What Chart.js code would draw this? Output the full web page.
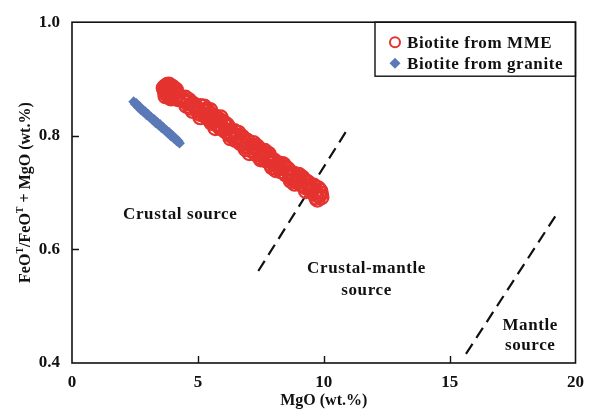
<!DOCTYPE html>
<html>
<head>
<meta charset="utf-8">
<script src="https://cdn.jsdelivr.net/npm/chart.js@4/dist/chart.umd.min.js"></script>
<style>
  html, body { margin: 0; padding: 0; background: #fff; }
  #wrap { width: 593px; height: 413px; }
</style>
</head>
<body>
<div id="wrap"><canvas id="chart" width="593" height="413"></canvas></div>
<script>
// MgO (wt.%) vs FeOT/(FeOT+MgO), biotite from MME
const mmePoints = [
  [3.65,0.884],[3.70,0.878],[3.75,0.887],[3.80,0.881],[3.85,0.875],[3.90,0.885],[3.95,0.879],[4.00,0.872],
  [4.05,0.882],[3.72,0.870],[3.88,0.868],[4.10,0.876],[3.78,0.889],[3.98,0.886],[4.15,0.870],[4.20,0.865],
  [3.68,0.882],[3.82,0.886],[3.92,0.874],[4.02,0.878],[3.76,0.874],[3.86,0.882],[3.96,0.870],[4.08,0.868],
  [3.70,0.886],[4.12,0.881],[3.84,0.890],[3.94,0.866],
  [4.45,0.862],[4.60,0.858],[4.70,0.850],[4.80,0.856],[4.95,0.847],[5.05,0.840],[5.10,0.852],[5.20,0.843],
  [5.30,0.835],[5.35,0.846],[5.45,0.830],[5.50,0.838],[5.60,0.826],[5.70,0.833],[5.75,0.820],[5.85,0.828],
  [5.95,0.815],[6.05,0.822],[6.10,0.808],[6.20,0.815],[6.35,0.800],[6.45,0.808],[6.50,0.793],[6.60,0.800],
  [6.70,0.787],[6.80,0.795],[6.90,0.782],[7.00,0.789],[7.10,0.775],[7.20,0.783],[7.30,0.768],[7.40,0.776],
  [7.50,0.762],[7.60,0.770],[7.70,0.757],[7.80,0.764],[7.90,0.750],[8.00,0.757],[8.10,0.744],[8.20,0.751],
  [8.30,0.738],[8.40,0.745],[8.50,0.732],[8.60,0.739],[8.70,0.726],[8.80,0.733],[8.90,0.720],[9.00,0.727],
  [9.10,0.715],[9.20,0.722],[9.30,0.709],[9.40,0.716],[9.50,0.703],[9.60,0.710],[9.70,0.697],[9.85,0.703],
  [9.90,0.692],[9.75,0.688],
  [4.50,0.867],[4.80,0.844],[5.10,0.833],[5.40,0.842],[5.70,0.814],[6.00,0.824],[6.30,0.796],[6.60,0.805],
  [6.90,0.777],[7.20,0.787],[7.50,0.759],[7.80,0.768],[8.10,0.740],[8.40,0.749],[8.70,0.721],[9.00,0.731],
  [9.30,0.703],[9.60,0.712],[5.25,0.851],[5.55,0.823],[5.90,0.832],[6.25,0.803],[6.75,0.798],[7.05,0.770],
  [7.65,0.773],[7.95,0.745],[8.55,0.742],[8.85,0.716],[9.45,0.708],[9.80,0.695],
  [4.35,0.866],[4.55,0.853],[4.65,0.862],[4.90,0.852],[5.00,0.845],[5.15,0.838],[5.28,0.843],[5.40,0.832],
  [5.48,0.845],[5.65,0.829],[5.80,0.822],[5.88,0.815],[6.00,0.812],[6.15,0.819],[6.22,0.806],[6.40,0.803],
  [6.55,0.797],[6.65,0.792],[6.85,0.788],[6.95,0.791],[7.15,0.780],[7.25,0.774],[7.35,0.781],[7.45,0.770],
  [7.55,0.766],[7.75,0.761],[7.85,0.756],[8.05,0.752],[8.15,0.748],[8.25,0.743],[8.35,0.750],[8.45,0.736],
  [8.65,0.733],[8.75,0.729],[8.95,0.724],[9.05,0.719],[9.15,0.726],[9.25,0.713],[9.35,0.718],[9.55,0.706],
  [9.65,0.701],[9.78,0.707],[9.88,0.698],[9.70,0.692]
];

// biotite from granite
const granitePoints = [
  [2.45,0.860],[2.51,0.856],[2.56,0.857],[2.62,0.851],[2.67,0.852],[2.73,0.846],[2.78,0.847],[2.84,0.842],
  [2.90,0.843],[2.96,0.837],[3.02,0.838],[3.08,0.833],[3.14,0.833],[3.20,0.828],[3.26,0.829],[3.32,0.823],
  [3.38,0.824],[3.44,0.819],[3.50,0.820],[3.56,0.814],[3.62,0.815],[3.68,0.810],[3.74,0.810],[3.80,0.805],
  [3.86,0.806],[3.92,0.800],[3.98,0.801],[4.04,0.796],[4.10,0.796],[4.16,0.791],[4.22,0.791],[4.27,0.787]
];

// source field boundaries (dashed)
const crustMantleLine = [[7.4,0.562],[10.95,0.812]];
const mantleLine = [[15.65,0.416],[19.25,0.662]];

const xTicks = [0, 5, 10, 15, 20];
const yTicks = [0.4, 0.6, 0.8, 1.0];

// field labels: [text, MgO, ratio]
const fieldLabels = [
  ["Crustal source", 4.3, 0.662],
  ["Crustal-mantle", 11.7, 0.566],
  ["source", 11.7, 0.527],
  ["Mantle", 18.2, 0.466],
  ["source", 18.2, 0.430]
];

const legendItems = [
  { text: "Biotite from MME", style: "circle" },
  { text: "Biotite from granite", style: "diamond" }
];

const RED = "#e5332f";
const BLUE = "#5b79b7";
const SERIF = "'Liberation Serif', 'DejaVu Serif', serif";
const LABEL_FONT = "bold 17px " + SERIF;

const toXY = arr => arr.map(p => ({ x: p[0], y: p[1] }));

const framePlugin = {
  id: "frame",
  afterDraw(chart) {
    const { ctx, chartArea: a, scales } = chart;
    const xs = scales.x, ys = scales.y;
    ctx.save();
    ctx.strokeStyle = "#111";
    ctx.lineWidth = 1.6;
    ctx.strokeRect(a.left, a.top, a.right - a.left, a.bottom - a.top);

    // inward ticks
    ctx.lineWidth = 1.4;
    ctx.beginPath();
    xTicks.slice(1, -1).forEach(v => {
      const px = Math.round(xs.getPixelForValue(v)) + 0.5;
      ctx.moveTo(px, a.bottom);
      ctx.lineTo(px, a.bottom - 7);
    });
    yTicks.slice(1, -1).forEach(v => {
      const py = Math.round(ys.getPixelForValue(v)) + 0.5;
      ctx.moveTo(a.left, py);
      ctx.lineTo(a.left + 7, py);
    });
    ctx.stroke();

    // field labels
    ctx.fillStyle = "#111";
    ctx.font = LABEL_FONT;
    ctx.letterSpacing = "0.6px";
    ctx.textAlign = "center";
    ctx.textBaseline = "middle";
    fieldLabels.forEach(([t, x, y]) => {
      ctx.fillText(t, xs.getPixelForValue(x), ys.getPixelForValue(y));
    });

    // legend box
    const lx = 375, ly = a.top, lw = a.right - lx, lh = 54;
    ctx.lineWidth = 1.4;
    ctx.strokeRect(lx, ly, lw, lh);
    legendItems.forEach((it, i) => {
      const cy = ly + 20 + i * 21;
      const cx = lx + 20;
      if (it.style === "circle") {
        ctx.strokeStyle = RED;
        ctx.lineWidth = 2;
        ctx.beginPath();
        ctx.arc(cx, cy, 5, 0, Math.PI * 2);
        ctx.stroke();
      } else {
        ctx.fillStyle = BLUE;
        ctx.beginPath();
        ctx.moveTo(cx, cy - 5.5);
        ctx.lineTo(cx + 5.5, cy);
        ctx.lineTo(cx, cy + 5.5);
        ctx.lineTo(cx - 5.5, cy);
        ctx.closePath();
        ctx.fill();
      }
      ctx.fillStyle = "#111";
      ctx.textAlign = "left";
      ctx.font = LABEL_FONT;
      ctx.fillText(it.text, cx + 12, cy + 1);
    });
    ctx.letterSpacing = "0px";

    // y axis title with superscripts
    const parts = [["FeO", false], ["T", true], ["/FeO", false], ["T", true], [" + MgO (wt.%)", false]];
    const big = "bold 16px " + SERIF, small = "bold 10px " + SERIF;
    let total = 0;
    parts.forEach(([t, sup]) => { ctx.font = sup ? small : big; total += ctx.measureText(t).width; });
    ctx.translate(24, (a.top + a.bottom) / 2);
    ctx.rotate(-Math.PI / 2);
    ctx.textAlign = "left";
    ctx.textBaseline = "alphabetic";
    let pos = -total / 2;
    parts.forEach(([t, sup]) => {
      ctx.font = sup ? small : big;
      ctx.fillText(t, pos, sup ? -1 : 6);
      pos += ctx.measureText(t).width;
    });
    ctx.restore();
  }
};

new Chart(document.getElementById("chart").getContext("2d"), {
  type: "scatter",
  data: {
    datasets: [
      {
        label: "Biotite from granite",
        data: toXY(granitePoints),
        pointStyle: "rectRot",
        pointRadius: 5.4,
        backgroundColor: BLUE,
        borderColor: BLUE,
        borderWidth: 0
      },
      {
        label: "Biotite from MME",
        data: toXY(mmePoints),
        pointStyle: "circle",
        pointRadius: 7.2,
        backgroundColor: "rgba(0,0,0,0)",
        borderColor: RED,
        borderWidth: 2.2
      },
      {
        type: "line",
        data: toXY(crustMantleLine),
        borderColor: "#111",
        borderWidth: 2.2,
        borderDash: [12, 7],
        pointRadius: 0,
        fill: false
      },
      {
        type: "line",
        data: toXY(mantleLine),
        borderColor: "#111",
        borderWidth: 2.2,
        borderDash: [12, 7],
        pointRadius: 0,
        fill: false
      }
    ]
  },
  options: {
    responsive: false,
    animation: false,
    layout: { padding: { top: 19, right: 14, left: 0, bottom: 3 } },
    plugins: {
      legend: { display: false },
      tooltip: { enabled: false }
    },
    scales: {
      x: {
        type: "linear",
        min: 0, max: 20,
        afterBuildTicks: s => { s.ticks = xTicks.map(v => ({ value: v })); },
        afterFit: s => { s.height = 47; },
        grid: { display: false, drawTicks: false },
        border: { display: false },
        ticks: {
          padding: 9,
          color: "#111",
          font: { family: SERIF, size: 17, weight: "bold" },
          maxRotation: 0
        },
        title: {
          display: true,
          text: "MgO (wt.%)",
          color: "#111",
          font: { family: SERIF, size: 16, weight: "bold" },
          padding: { top: 0, bottom: 0 }
        }
      },
      y: {
        type: "linear",
        min: 0.4, max: 1.0,
        afterBuildTicks: s => { s.ticks = yTicks.map(v => ({ value: v })); },
        afterFit: s => { s.width = 72; },
        grid: { display: false, drawTicks: false },
        border: { display: false },
        ticks: {
          padding: 12,
          color: "#111",
          font: { family: SERIF, size: 17, weight: "bold" },
          callback: v => Number(v).toFixed(1)
        }
      }
    }
  },
  plugins: [framePlugin]
});
</script>
</body>
</html>
